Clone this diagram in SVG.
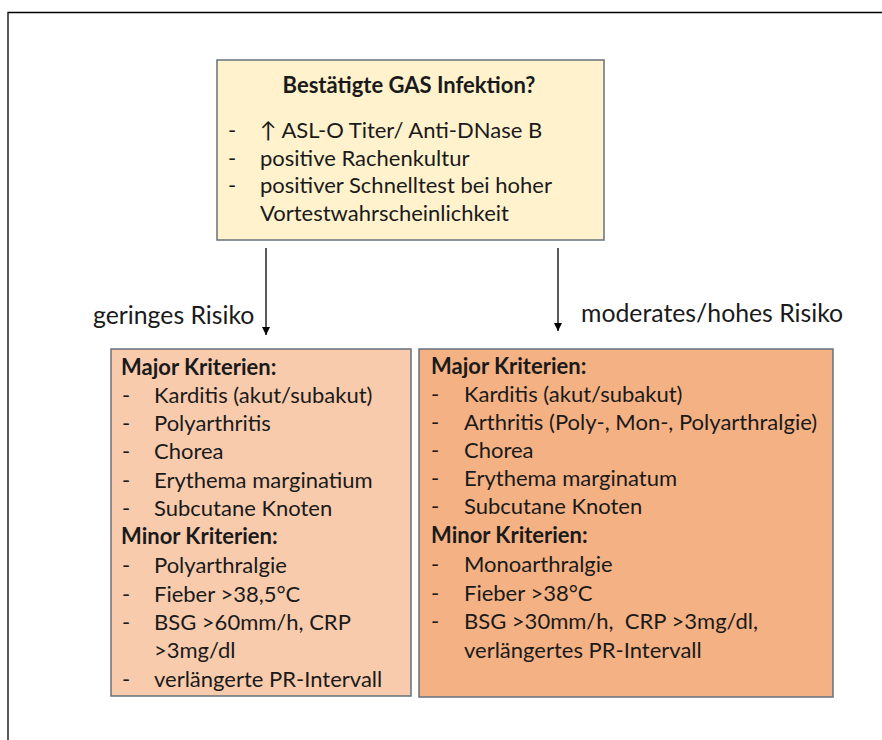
<svg xmlns="http://www.w3.org/2000/svg" width="882" height="740" viewBox="0 0 882 740">
<defs>
<style>
text{font-family:Lato,"Open Sans","Liberation Sans",sans-serif;font-size:22px;fill:#1a1a1a}
.b{font-weight:bold}
.lbl{font-size:24.8px}
.box{stroke:#66707e;stroke-width:1.5}
.con{stroke:#000;stroke-width:1.3;fill:none}
</style>
<marker id="ah" viewBox="0 0 10 10" refX="10" refY="5" markerWidth="8" markerHeight="8" markerUnits="userSpaceOnUse" orient="auto">
<path d="M0,0 L10,5 L0,10 Z" fill="#000"/>
</marker>
</defs>
<rect width="882" height="740" fill="#fff"/>
<path d="M8,740 V12.5 H882" fill="none" stroke="#000" stroke-width="1.3"/>

<g id="gas">
<rect class="box" x="217" y="60" width="387" height="180" fill="#FFF2CC"/>
<text class="b" x="409" y="93" text-anchor="middle">Bestätigte GAS Infektion?</text>
<text x="228" y="138">-</text><text x="260" y="138">↑ ASL-O Titer/ Anti-DNase B</text>
<text x="228" y="165.5">-</text><text x="260" y="165.5">positive Rachenkultur</text>
<text x="228" y="193">-</text><text x="260" y="193">positiver Schnelltest bei hoher</text>
<text x="260" y="220.5">Vortestwahrscheinlichkeit</text>
</g>

<g id="connectors">
<line class="con" x1="266" y1="248" x2="266" y2="335" marker-end="url(#ah)"/>
<line class="con" x1="558" y1="248" x2="558" y2="331" marker-end="url(#ah)"/>
<text class="lbl" x="93" y="324">geringes Risiko</text>
<text class="lbl" x="581" y="322">moderates/hohes Risiko</text>
</g>

<g id="low">
<rect class="box" x="111" y="349" width="300" height="347" fill="#F8CBAD"/>
<text class="b" x="121" y="375">Major Kriterien:</text>
<text x="122" y="402.5">-</text><text x="154" y="402.5">Karditis (akut/subakut)</text>
<text x="122" y="431">-</text><text x="154" y="431">Polyarthritis</text>
<text x="122" y="459">-</text><text x="154" y="459">Chorea</text>
<text x="122" y="487.5">-</text><text x="154" y="487.5">Erythema marginatium</text>
<text x="122" y="516">-</text><text x="154" y="516">Subcutane Knoten</text>
<text class="b" x="121" y="544">Minor Kriterien:</text>
<text x="122" y="573">-</text><text x="154" y="573">Polyarthralgie</text>
<text x="122" y="601.5">-</text><text x="154" y="601.5">Fieber &gt;38,5°C</text>
<text x="122" y="630">-</text><text x="154" y="630">BSG &gt;60mm/h, CRP</text>
<text x="154" y="658">&gt;3mg/dl</text>
<text x="122" y="686.5">-</text><text x="154" y="686.5">verlängerte PR-Intervall</text>
</g>

<g id="high">
<rect class="box" x="419" y="349" width="414" height="348" fill="#F4B183"/>
<text class="b" x="431" y="374">Major Kriterien:</text>
<text x="431" y="401.5">-</text><text x="464" y="401.5">Karditis (akut/subakut)</text>
<text x="431" y="430">-</text><text x="464" y="430">Arthritis (Poly-, Mon-, Polyarthralgie)</text>
<text x="431" y="458">-</text><text x="464" y="458">Chorea</text>
<text x="431" y="486">-</text><text x="464" y="486">Erythema marginatum</text>
<text x="431" y="514">-</text><text x="464" y="514">Subcutane Knoten</text>
<text class="b" x="431" y="542.5">Minor Kriterien:</text>
<text x="431" y="571.5">-</text><text x="464" y="571.5">Monoarthralgie</text>
<text x="431" y="600.5">-</text><text x="464" y="600.5">Fieber &gt;38°C</text>
<text x="431" y="629">-</text><text x="464" y="629" xml:space="preserve">BSG &gt;30mm/h,  CRP &gt;3mg/dl,</text>
<text x="464" y="658">verlängertes PR-Intervall</text>
</g>
</svg>
